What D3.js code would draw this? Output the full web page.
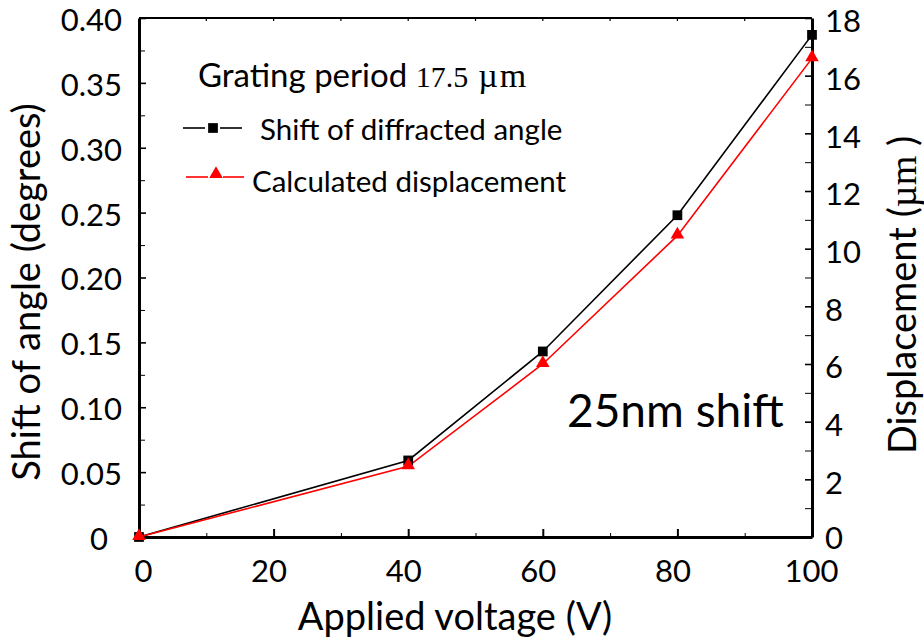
<!DOCTYPE html>
<html>
<head>
<meta charset="utf-8">
<script src="https://cdn.jsdelivr.net/npm/d3@7"></script>
<style>
  body { margin: 0; background: #fff; }
  svg { display: block; font-family: Lato, "Open Sans", sans-serif; }
  .axis path, .axis line { stroke: #000; }
  .axis text { font-family: Lato, sans-serif; fill: #000; }
</style>
</head>
<body>
<svg id="chart"></svg>
<script>
// data
var voltage = [0, 40, 60, 80, 100];
var angleShift = [0, 0.059, 0.143, 0.248, 0.387];      // degrees (left axis)
var displacement = [0, 2.45, 6.0, 10.45, 16.6];         // um (right axis)

var xMajor = [0, 20, 40, 60, 80, 100];
var xMinor = [10, 30, 50, 70, 90];
var yLeftMajor = [0, 0.05, 0.10, 0.15, 0.20, 0.25, 0.30, 0.35, 0.40];
var yLeftMinor = [0.025, 0.075, 0.125, 0.175, 0.225, 0.275, 0.325, 0.375];
var yRightMajor = [0, 2, 4, 6, 8, 10, 12, 14, 16, 18];
var yRightMinor = [1, 3, 5, 7, 9, 11, 13, 15, 17];

var svgWidth = 924;
var svgHeight = 641;
var margin = {top: 18, right: 112, bottom: 104, left: 139};
var width = svgWidth - margin.left - margin.right;
var height = svgHeight - margin.top - margin.bottom;

var serif = "'Liberation Serif', 'Times New Roman', serif";

var svg = d3.select("#chart")
  .attr("width", svgWidth)
  .attr("height", svgHeight);

var g = svg.append("g")
  .attr("transform", `translate(${margin.left},${margin.top})`);

var x = d3.scaleLinear().domain([0, 100]).range([0, width]);
var yL = d3.scaleLinear().domain([0, 0.4]).range([height, 0]);
var yR = d3.scaleLinear().domain([0, 18]).range([height, 0]);

// top frame line with small ticks
g.append("line")
  .attr("x1", 0).attr("x2", width)
  .attr("y1", 0).attr("y2", 0)
  .attr("stroke", "#000").attr("stroke-width", 2.2);
g.append("g")
  .selectAll("line")
  .data(xMajor.concat(xMinor).filter(d => d > 0 && d < 100))
  .join("line")
    .attr("x1", d => x(d)).attr("x2", d => x(d))
    .attr("y1", 0).attr("y2", 3)
    .attr("stroke", "#000").attr("stroke-width", 1.2);

// bottom axis
var xAxis = g.append("g")
  .attr("class", "axis")
  .attr("transform", `translate(0,${height})`)
  .call(d3.axisBottom(x).tickValues(xMajor).tickSizeInner(-8).tickSizeOuter(0).tickPadding(23));
g.append("g")
  .attr("class", "axis")
  .attr("transform", `translate(0,${height})`)
  .call(d3.axisBottom(x).tickValues(xMinor).tickSizeInner(-4).tickSizeOuter(0).tickFormat(""))
  .select(".domain").remove();
xAxis.select(".domain").attr("stroke-width", 3);
xAxis.selectAll(".tick line").attr("stroke-width", 2);
xAxis.selectAll(".tick text")
  .attr("font-size", 31)
  .attr("dx", d => d === 0 ? 4 : (d === 100 ? -1 : -5));

// left axis
var leftAxis = g.append("g")
  .attr("class", "axis")
  .call(d3.axisLeft(yL).tickValues(yLeftMajor).tickSizeInner(-7).tickSizeOuter(0).tickPadding(17)
    .tickFormat(d => d === 0 ? "0" : d3.format(".2f")(d)));
g.append("g")
  .attr("class", "axis")
  .call(d3.axisLeft(yL).tickValues(yLeftMinor).tickSizeInner(-6).tickSizeOuter(0).tickFormat(""))
  .select(".domain").remove();
leftAxis.select(".domain").attr("stroke-width", 3);
leftAxis.selectAll(".tick line").attr("stroke-width", 1.6);
leftAxis.selectAll(".tick text")
  .attr("font-size", 31)
  .attr("dy", "0.4em")
  .attr("dx", d => d === 0 ? -14 : 0);

// right axis
var rightAxis = g.append("g")
  .attr("class", "axis")
  .attr("transform", `translate(${width},0)`)
  .call(d3.axisRight(yR).tickValues(yRightMajor).tickSizeInner(-7).tickSizeOuter(0).tickPadding(13));
g.append("g")
  .attr("class", "axis")
  .attr("transform", `translate(${width},0)`)
  .call(d3.axisRight(yR).tickValues(yRightMinor).tickSizeInner(-7).tickSizeOuter(0).tickFormat(""))
  .select(".domain").remove();
rightAxis.select(".domain").attr("stroke-width", 3);
rightAxis.selectAll(".tick line").attr("stroke-width", 1.6);
rightAxis.selectAll(".tick text")
  .attr("font-size", 31)
  .attr("dy", d => d === 0 ? "0.38em" : "0.45em");

// axis titles
svg.append("text")
  .attr("x", 455)
  .attr("y", 630)
  .attr("text-anchor", "middle")
  .attr("font-size", 38)
  .text("Applied voltage (V)");

svg.append("text")
  .attr("transform", "translate(40,292) rotate(-90)")
  .attr("text-anchor", "middle")
  .attr("font-size", 38)
  .text("Shift of angle (degrees)");

var rTitle = svg.append("text")
  .attr("transform", "translate(916,295) rotate(-90)")
  .attr("text-anchor", "middle")
  .attr("font-size", 38);
rTitle.append("tspan").text("Displacement  (");
rTitle.append("tspan").attr("font-family", serif).text("\u00b5m");
rTitle.append("tspan").text(" )");

// series lines
var lineL = d3.line().x((d, i) => x(voltage[i])).y(d => yL(d));
var lineR = d3.line().x((d, i) => x(voltage[i])).y(d => yR(d));

g.append("path")
  .datum(angleShift)
  .attr("fill", "none")
  .attr("stroke", "#000")
  .attr("stroke-width", 1.6)
  .attr("d", lineL);

g.append("path")
  .datum(displacement)
  .attr("fill", "none")
  .attr("stroke", "#ff0000")
  .attr("stroke-width", 1.6)
  .attr("d", lineR);

var square = d3.symbol().type(d3.symbolSquare).size(95);
var triangle = d3.symbol().type(d3.symbolTriangle).size(80);

g.append("g")
  .selectAll("path")
  .data(angleShift)
  .join("path")
    .attr("transform", (d, i) => `translate(${x(voltage[i])},${yL(d)})`)
    .attr("d", square)
    .attr("fill", "#000");

g.append("g")
  .selectAll("path")
  .data(displacement)
  .join("path")
    .attr("transform", (d, i) => `translate(${x(voltage[i])},${yR(d) - 1})`)
    .attr("d", triangle)
    .attr("fill", "#ff0000");

// title + legend
var title = svg.append("text")
  .attr("x", 198)
  .attr("y", 87)
  .attr("font-size", 33);
title.append("tspan").text("Grating period ");
title.append("tspan")
  .attr("font-family", serif)
  .attr("font-size", 30)
  .text("17.5");
title.append("tspan")
  .attr("font-family", serif)
  .attr("font-size", 34)
  .attr("dx", 10)
  .attr("letter-spacing", 2)
  .text("\u00b5m");

var legend = svg.append("g");
legend.append("line")
  .attr("x1", 183).attr("x2", 205).attr("y1", 128).attr("y2", 128)
  .attr("stroke", "#000").attr("stroke-width", 1.6);
legend.append("line")
  .attr("x1", 220).attr("x2", 242).attr("y1", 128).attr("y2", 128)
  .attr("stroke", "#000").attr("stroke-width", 1.6);
legend.append("path")
  .attr("transform", "translate(213,128)")
  .attr("d", square)
  .attr("fill", "#000");
legend.append("text")
  .attr("x", 260).attr("y", 140)
  .attr("font-size", 29.5)
  .text("Shift of diffracted angle");

legend.append("line")
  .attr("x1", 186).attr("x2", 208).attr("y1", 177).attr("y2", 177)
  .attr("stroke", "#ff0000").attr("stroke-width", 1.6);
legend.append("line")
  .attr("x1", 223).attr("x2", 244).attr("y1", 177).attr("y2", 177)
  .attr("stroke", "#ff0000").attr("stroke-width", 1.6);
legend.append("path")
  .attr("transform", "translate(216,174)")
  .attr("d", triangle)
  .attr("fill", "#ff0000");
legend.append("text")
  .attr("x", 252).attr("y", 192)
  .attr("font-size", 29.5)
  .text("Calculated displacement");

// annotation
svg.append("text")
  .attr("x", 567)
  .attr("y", 427)
  .attr("font-size", 46)
  .text("25nm shift");
</script>
</body>
</html>
